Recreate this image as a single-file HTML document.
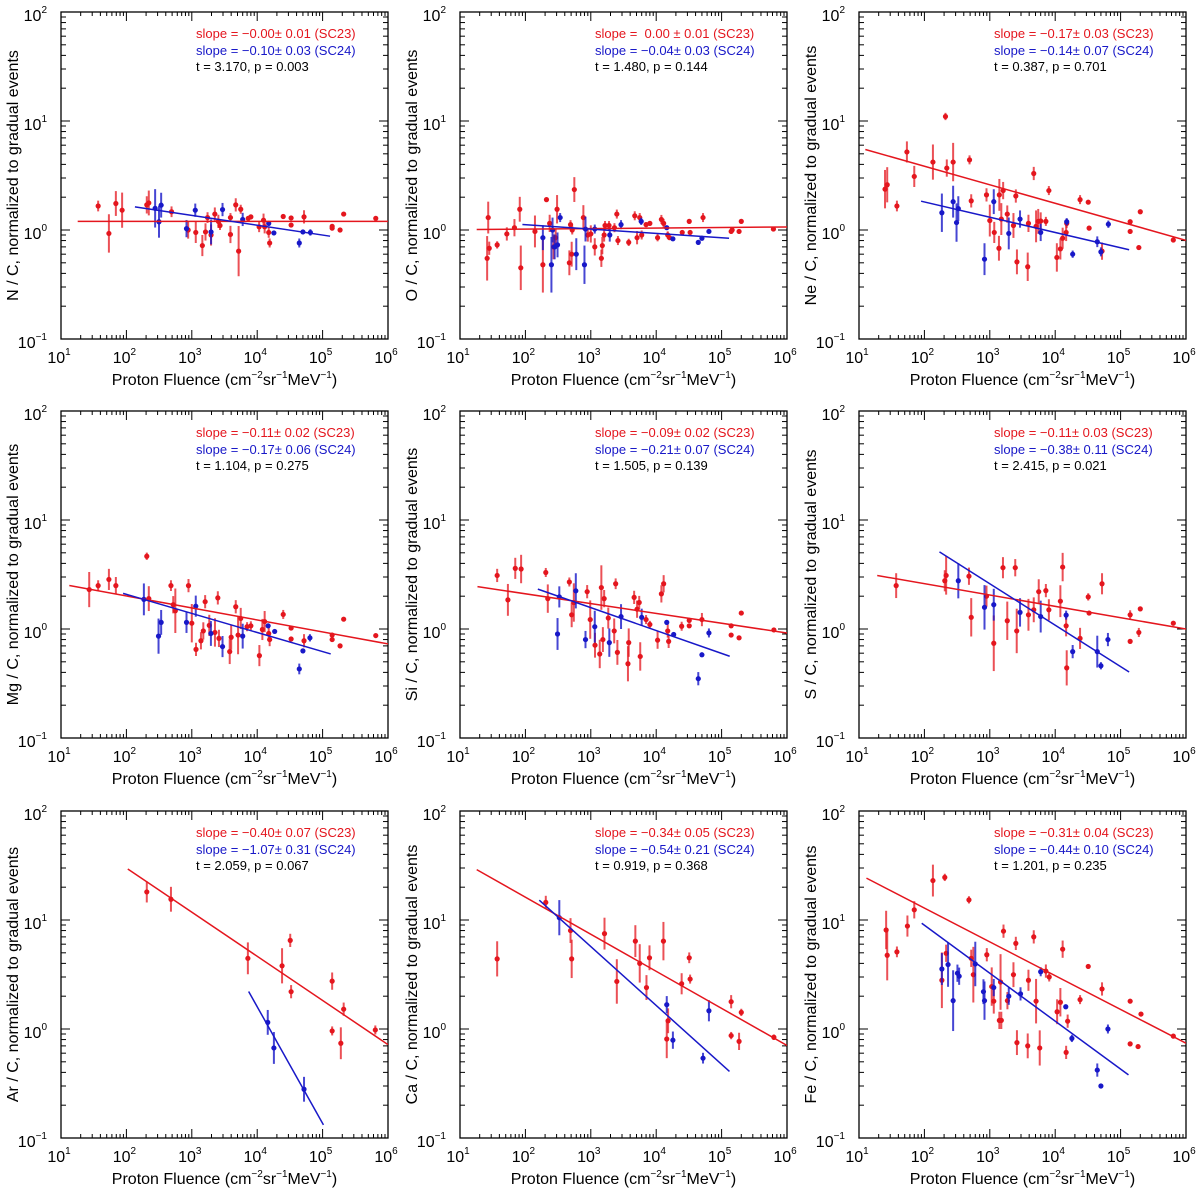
<!DOCTYPE html>
<html><head><meta charset="utf-8"><style>
body{margin:0;background:#fff;}
svg{display:block;font-family:"Liberation Sans",sans-serif;}
</style></head><body>
<svg id="fig" width="1200" height="1190" viewBox="0 0 1200 1190" xmlns="http://www.w3.org/2000/svg"></svg>
<script>
// ---------- data ----------
const panelNames = ["N","O","Ne","Mg","Si","S","Ar","Ca","Fe"];
const xTickExps = [1,2,3,4,5,6];
const yTickExps = [-1,0,1,2];
const slopeText23 = ["\u22120.00\u00b1 0.01","\u00a00.00 \u00b1 0.01","\u22120.17\u00b1 0.03","\u22120.11\u00b1 0.02","\u22120.09\u00b1 0.02","\u22120.11\u00b1 0.03","\u22120.40\u00b1 0.07","\u22120.34\u00b1 0.05","\u22120.31\u00b1 0.04"];
const slopeText24 = ["\u22120.10\u00b1 0.03","\u22120.04\u00b1 0.03","\u22120.14\u00b1 0.07","\u22120.17\u00b1 0.06","\u22120.21\u00b1 0.07","\u22120.38\u00b1 0.11","\u22121.07\u00b1 0.31","\u22120.54\u00b1 0.21","\u22120.44\u00b1 0.10"];
const tpText = ["t = 3.170, p = 0.003","t = 1.480, p = 0.144","t = 0.387, p = 0.701","t = 1.104, p = 0.275","t = 1.505, p = 0.139","t = 2.415, p = 0.021","t = 2.059, p = 0.067","t = 0.919, p = 0.368","t = 1.201, p = 0.235"];
// fits: [xStart, xEnd, slope, yAtRef, ref]
const fit23 = [[18,1e6,0.0,1.2,1e3],[18,1e6,0.005,1.03,1e3],[12.5,1e6,-0.17,2.6,1e3],[13.4,1e6,-0.11,1.56,1e3],[18.5,1e6,-0.09,1.71,1e3],[19,1e6,-0.104,2.05,1e3],[105,1e6,-0.405,11.8,1e3],[18,1e6,-0.34,7.4,1e3],[13,1e6,-0.31,6.3,1e3]];
const fit24 = [[135,130000,-0.09,1.36,1e3],[90,130000,-0.04,1.02,1e3],[89,135000,-0.14,1.31,1e3],[89,133000,-0.175,1.39,1e3],[155,133000,-0.21,1.57,1e3],[170,135000,-0.38,2.6,1e3],[7400,103000,-1.07,1.6,1e4],[163,132000,-0.54,5.7,1e3],[91,132000,-0.44,3.25,1e3]];
// points: [fluence, ratio, error factor]
const red = [
 [[37,1.66,1.12],[54,0.93,1.5],[69,1.75,1.3],[86,1.52,1.45],[205,1.7,1.2],[220,1.77,1.3],[490,1.47,1.12],[880,1.0,1.2],[1150,0.95,1.25],[1450,0.72,1.25],[1620,0.96,1.2],[1740,1.3,1.12],[1970,0.9,1.25],[2250,1.4,1.15],[2550,1.2,1.15],[2700,1.1,1.1],[3900,0.91,1.2],[3900,1.3,1.1],[4700,1.7,1.15],[5200,0.64,1.7],[5600,1.55,1.1],[7300,1.28,1.05],[8000,1.32,1.05],[10700,1.07,1.12],[12500,1.23,1.15],[13000,1.07,1.15],[15000,0.95,1.12],[15500,0.76,1.1],[25000,1.33,1.05],[33000,1.29,1.04],[33000,1.11,1.04],[52000,1.32,1.15],[140000,1.08,1.03],[140000,1.04,1.03],[185000,1.0,1.03],[210000,1.4,1.03],[650000,1.28,1.03]],
 [[26,0.55,1.6],[27,1.3,1.4],[28,0.68,1.15],[37,0.73,1.08],[52,0.92,1.15],[68,1.05,1.2],[82,1.55,1.3],[85,0.45,1.6],[140,0.97,1.4],[185,0.48,1.8],[210,1.9,1.05],[235,1.15,1.2],[270,0.7,1.3],[290,0.85,1.2],[305,1.55,1.35],[470,0.5,1.3],[490,1.12,1.1],[510,0.6,1.3],[520,1.0,1.1],[560,2.35,1.3],[770,1.3,1.3],[900,0.9,1.15],[1000,0.92,1.2],[1150,0.7,1.2],[1450,0.55,1.2],[1500,0.72,1.2],[1600,0.9,1.15],[1650,1.1,1.1],[1900,1.1,1.1],[2300,1.05,1.1],[2500,1.4,1.1],[2600,0.8,1.1],[3800,0.77,1.08],[4700,1.35,1.1],[5100,0.85,1.15],[5600,1.3,1.1],[6000,0.9,1.1],[7000,1.12,1.05],[8000,1.15,1.05],[10500,0.85,1.08],[12000,1.25,1.1],[13000,1.15,1.1],[15000,0.9,1.08],[16000,0.85,1.05],[25000,0.95,1.05],[32000,1.2,1.05],[33000,0.95,1.05],[52000,1.3,1.1],[140000,0.97,1.05],[145000,1.0,1.05],[185000,0.97,1.05],[200000,1.2,1.04],[620000,1.02,1.03]],
 [[25,2.37,1.5],[27,2.6,1.45],[38,1.66,1.12],[54,5.2,1.25],[70,3.1,1.25],[135,4.2,1.45],[210,11,1.08],[220,3.7,1.2],[275,4.2,1.5],[490,4.4,1.1],[520,1.85,1.15],[890,2.1,1.15],[1000,1.22,1.4],[1170,0.95,1.25],[1380,0.68,1.3],[1400,2.1,1.4],[1500,1.26,1.4],[1600,2.3,1.2],[1850,1.4,1.2],[2300,1.1,1.3],[2500,2.05,1.15],[2600,0.51,1.3],[3800,0.46,1.35],[3900,1.15,1.2],[4700,3.3,1.15],[5100,1.08,1.4],[5500,1.2,1.3],[6000,1.21,1.2],[7200,1.2,1.1],[8000,2.3,1.1],[10600,0.56,1.35],[12000,0.67,1.25],[13000,0.84,1.25],[14700,0.95,1.2],[15000,1.15,1.1],[24000,1.9,1.1],[32000,1.8,1.05],[33000,1.04,1.05],[52000,0.64,1.2],[140000,1.19,1.05],[140000,0.97,1.05],[190000,0.69,1.05],[200000,1.47,1.05],[640000,0.81,1.03]],
 [[27,2.3,1.45],[37,2.5,1.12],[54,2.85,1.25],[69,2.5,1.2],[205,4.65,1.08],[220,1.9,1.3],[480,2.5,1.12],[520,1.67,1.2],[560,1.47,1.6],[890,2.5,1.15],[1000,1.13,1.5],[1160,0.65,1.15],[1380,0.78,1.2],[1500,0.96,1.2],[1600,1.78,1.15],[1850,1.08,1.25],[2260,0.93,1.35],[2500,1.93,1.15],[2600,0.82,1.2],[3800,0.62,1.3],[4000,0.84,1.3],[4700,1.6,1.15],[5100,0.88,1.5],[5600,1.25,1.25],[7000,1.05,1.1],[8000,1.07,1.1],[10800,0.57,1.25],[12000,0.99,1.25],[13000,1.17,1.25],[15000,0.91,1.15],[15500,0.8,1.15],[25000,1.36,1.1],[33000,1.02,1.05],[33000,0.81,1.05],[52000,0.78,1.15],[140000,0.88,1.05],[140000,0.8,1.05],[185000,0.7,1.04],[210000,1.23,1.03],[650000,0.87,1.03]],
 [[37,3.1,1.15],[54,1.85,1.4],[70,3.6,1.25],[86,3.55,1.35],[205,3.3,1.1],[220,1.9,1.35],[470,2.7,1.1],[510,1.35,1.3],[550,1.75,1.5],[880,2.2,1.15],[980,1.22,1.5],[1160,0.71,1.3],[1370,0.59,1.35],[1450,2.4,1.6],[1530,0.8,1.3],[1600,1.9,1.2],[1850,1.26,1.25],[2280,0.96,1.3],[2400,2.6,1.12],[2550,0.61,1.3],[3700,0.48,1.45],[3800,0.75,1.35],[4600,1.95,1.15],[5100,1.52,1.2],[5500,1.75,1.15],[5700,0.56,1.35],[7000,1.22,1.1],[8000,1.1,1.08],[10500,0.79,1.2],[12000,2.1,1.2],[13000,2.6,1.2],[15000,0.96,1.15],[15500,0.77,1.15],[24500,1.06,1.1],[32000,1.2,1.05],[32000,1.07,1.05],[50000,1.22,1.15],[140000,1.07,1.05],[140000,0.88,1.04],[185000,0.83,1.05],[200000,1.4,1.03],[630000,0.98,1.03]],
 [[37,2.5,1.3],[205,2.77,1.25],[215,3.1,1.5],[480,3.05,1.2],[520,1.28,1.5],[890,2.0,1.25],[1150,0.74,1.8],[1590,3.65,1.25],[1850,1.19,1.5],[2450,3.65,1.2],[2580,0.96,1.6],[3900,1.35,1.4],[4700,1.5,1.3],[5600,2.2,1.3],[7200,2.25,1.15],[8000,1.5,1.25],[12000,1.8,1.4],[13000,3.7,1.35],[14700,1.07,1.25],[15000,0.44,1.45],[24000,0.82,1.25],[32000,1.97,1.08],[33000,1.4,1.05],[52000,2.6,1.25],[140000,0.77,1.04],[140000,1.35,1.1],[190000,0.93,1.1],[200000,1.53,1.04],[640000,1.13,1.04]],
 [[205,18.1,1.25],[480,15.5,1.3],[7200,4.45,1.4],[24000,3.8,1.45],[32000,6.5,1.15],[33000,2.2,1.15],[140000,2.75,1.2],[140000,0.96,1.1],[190000,0.74,1.4],[210000,1.52,1.15],[640000,0.98,1.1]],
 [[37,4.4,1.45],[205,14.5,1.15],[490,8,1.3],[510,4.4,1.5],[1620,7.5,1.4],[2500,2.73,1.6],[4800,6.4,1.4],[5600,4.0,1.5],[7100,2.4,1.3],[7900,4.5,1.3],[12900,6.4,1.5],[14500,0.81,1.5],[15200,1.19,1.3],[24500,2.6,1.25],[32000,4.5,1.12],[33000,2.87,1.1],[140000,1.78,1.15],[140000,0.87,1.08],[185000,0.77,1.2],[200000,1.42,1.08],[630000,0.84,1.06]],
 [[26,8.1,1.5],[27,4.75,1.7],[38,5.1,1.12],[55,8.8,1.25],[70,12.4,1.2],[135,23,1.4],[185,2.8,1.8],[205,24.6,1.08],[215,4.95,1.2],[480,15.3,1.08],[520,4.45,1.2],[560,3.15,1.8],[900,4.8,1.15],[1070,2.45,1.5],[1150,1.8,1.3],[1400,1.2,1.2],[1500,1.2,1.2],[1460,2.7,1.8],[1620,7.9,1.15],[1860,1.82,1.2],[2300,3.15,1.3],[2500,6.1,1.15],[2600,0.75,1.3],[3800,0.7,1.3],[3900,2.8,1.25],[4700,7.0,1.15],[5100,1.8,1.6],[5800,0.67,1.45],[7200,3.4,1.15],[8100,3.0,1.1],[10700,1.44,1.3],[12000,1.76,1.35],[13000,5.4,1.2],[14700,0.61,1.15],[15500,1.18,1.15],[24000,1.86,1.1],[32000,3.75,1.05],[52000,2.33,1.15],[140000,1.8,1.05],[140000,0.73,1.05],[185000,0.69,1.05],[205000,1.37,1.04],[640000,0.86,1.04]]
];
const blue = [
 [[275,1.58,1.5],[315,1.19,1.4],[340,1.69,1.3],[830,1.03,1.2],[1130,1.52,1.15],[1970,0.96,1.3],[2950,1.54,1.15],[6000,1.25,1.15],[15000,1.15,1.05],[18000,0.94,1.05],[44000,0.76,1.1],[50000,0.96,1.05],[65000,0.95,1.07]],
 [[185,0.85,1.3],[250,0.48,1.8],[260,1.0,1.3],[280,0.7,1.3],[310,0.73,1.3],[340,1.3,1.1],[600,0.6,1.4],[800,0.48,1.5],[830,1.02,1.3],[1150,1.02,1.1],[1950,0.9,1.15],[2900,1.12,1.1],[5900,1.2,1.08],[14500,1.05,1.04],[18000,0.83,1.04],[44000,0.77,1.05],[50000,0.84,1.04],[64000,0.97,1.03]],
 [[185,1.44,1.5],[275,1.82,1.4],[310,1.17,1.5],[330,1.57,1.3],[830,0.54,1.4],[1150,1.82,1.3],[1950,0.93,1.4],[2900,1.26,1.2],[6000,0.95,1.2],[15000,1.19,1.08],[18500,0.6,1.08],[44000,0.78,1.12],[50000,0.63,1.1],[65000,1.13,1.08]],
 [[185,1.87,1.4],[310,0.86,1.45],[340,1.15,1.3],[830,1.15,1.25],[1150,1.62,1.25],[1960,0.91,1.3],[2950,0.69,1.25],[6000,0.86,1.3],[14700,1.07,1.05],[18500,0.95,1.04],[44000,0.43,1.12],[50000,0.63,1.05],[64000,0.83,1.08]],
 [[310,0.9,1.4],[330,1.97,1.25],[590,2.24,1.45],[830,0.8,1.2],[1150,1.05,1.4],[1920,0.75,1.35],[2900,1.3,1.3],[6000,1.28,1.2],[14500,1.15,1.05],[18500,0.89,1.05],[44000,0.35,1.15],[50000,0.58,1.04],[64000,0.92,1.1]],
 [[330,2.77,1.45],[830,1.58,1.6],[1150,1.67,1.4],[2900,1.42,1.35],[6000,1.3,1.4],[14700,1.34,1.1],[18500,0.62,1.15],[44000,0.62,1.4],[50000,0.46,1.08],[64000,0.8,1.15]],
 [[14500,1.15,1.3],[18000,0.67,1.4],[52000,0.28,1.3]],
 [[330,10.5,1.45],[14500,1.67,1.2],[18000,0.79,1.2],[52000,0.54,1.12],[64000,1.47,1.25]],
 [[185,3.55,1.4],[230,3.9,1.6],[275,1.82,1.9],[320,3.25,1.2],[340,3.05,1.2],[600,3.95,1.6],[800,2.2,1.3],[830,1.82,1.5],[1150,2.4,1.2],[1950,2.0,1.2],[2950,2.1,1.15],[6000,3.35,1.1],[14500,1.6,1.05],[18000,0.82,1.08],[44000,0.42,1.15],[50000,0.3,1.05],[64000,1.0,1.1]]
];
// ---------- drawing ----------
const NS="http://www.w3.org/2000/svg";
const svg=document.getElementById('fig');
const colLeft=[61,460,859], rowTop=[12,411,811], PW=327, PH=327;
const RED="#e4161e", BLUE="#1818c8", REDE="rgba(228,22,30,0.75)", BLUEE="rgba(24,24,200,0.8)";
function mk(tag,attrs,parent){const e=document.createElementNS(NS,tag);for(const k in attrs)e.setAttribute(k,attrs[k]);(parent||svg).appendChild(e);return e;}
for(let p=0;p<9;p++){
  const L=colLeft[p%3], T=rowTop[Math.floor(p/3)];
  const g=mk('g',{});
  
  
  const sx=v=>L+(Math.log10(v)-1)*PW/5;
  const sy=v=>T+(2-Math.log10(v))*PH/3;
  const clipId='clip'+p;
  const cp=mk('clipPath',{id:clipId},g); mk('rect',{x:L,y:T,width:PW,height:PH},cp);
  // ticks
  const tg=mk('g',{stroke:'#000','stroke-width':1},g);
  
  
  for(let e=1;e<6;e++){for(let m=1;m<10;m++){const x=sx(m*Math.pow(10,e));const len=m===1?9:4;
    mk('line',{x1:x,y1:T+PH,x2:x,y2:T+PH-len},tg);mk('line',{x1:x,y1:T,x2:x,y2:T+len},tg);}}
  for(let e=-1;e<2;e++){for(let m=1;m<10;m++){const y=sy(m*Math.pow(10,e));const len=m===1?9:5;
    mk('line',{x1:L,y1:y,x2:L+len,y2:y},tg);mk('line',{x1:L+PW,y1:y,x2:L+PW-len,y2:y},tg);}}
  const fr=mk('rect',{x:L,y:T,width:PW,height:PH,fill:'none',stroke:'#000','stroke-width':1.3},g);
  
  
  // tick labels
  xTickExps.forEach(e=>{const t=mk('text',{x:sx(Math.pow(10,e))-2,y:T+PH+24,'font-size':16,'text-anchor':'middle'},g);
    
    
    t.textContent='10';const s=mk('tspan',{dy:-8,'font-size':10},t);s.textContent=String(e);});
  yTickExps.forEach(e=>{const t=mk('text',{x:L-14,y:sy(Math.pow(10,e))+9,'font-size':16,'text-anchor':'end'},g);
    
    
    t.textContent='10';const s=mk('tspan',{dy:-8,'font-size':10},t);s.textContent=e<0?'\u2212'+(-e):String(e);});
  // axis titles
  const xl=mk('text',{x:L+PW/2,y:T+PH+46,'font-size':16,'text-anchor':'middle'},g);
  
  
  xl.appendChild(document.createTextNode('Proton Fluence (cm'));
  let s=mk('tspan',{dy:-7,'font-size':10},xl);s.textContent='\u22122';
  s=mk('tspan',{dy:7},xl);s.textContent='sr';
  s=mk('tspan',{dy:-7,'font-size':10},xl);s.textContent='\u22121';
  s=mk('tspan',{dy:7},xl);s.textContent='MeV';
  s=mk('tspan',{dy:-7,'font-size':10},xl);s.textContent='\u22121';
  s=mk('tspan',{dy:7},xl);s.textContent=')';
  const yl=mk('text',{x:0,y:0,'font-size':16,'text-anchor':'middle',transform:`translate(${L-43},${T+PH/2}) rotate(-90)`},g);
  
  
  yl.textContent=panelNames[p]+' / C, normalized to gradual events';
  // annotations
  const ax=L+135;
  const a1=mk('text',{x:ax,y:T+26,'font-size':13,fill:RED},g);a1.textContent='slope = '+slopeText23[p]+' (SC23)';
  
  
  const a2=mk('text',{x:ax,y:T+43,'font-size':13,fill:BLUE},g);a2.textContent='slope = '+slopeText24[p]+' (SC24)';
  
  
  const a3=mk('text',{x:ax,y:T+59,'font-size':13,fill:'#000'},g);a3.textContent=tpText[p];
  
  
  // series
  const dg=mk('g',{'clip-path':`url(#${clipId})`},g);
  [[red[p],RED,REDE,'sc23'],[blue[p],BLUE,BLUEE,'sc24']].forEach(([pts,c,ce,nm])=>{
    pts.forEach(pt=>{const f=pt[2]||1.12;const x=sx(pt[0]);
      const el=mk('line',{x1:x,y1:sy(pt[1]*f),x2:x,y2:sy(pt[1]/f),stroke:ce,'stroke-width':2},dg);
      
      
      const d=mk('circle',{cx:x,cy:sy(pt[1]),r:2.6,fill:c},dg);
      
      
    });
  });
  [[fit23[p],RED,'fit-line-sc23'],[fit24[p],BLUE,'fit-line-sc24']].forEach(([f,c,nm])=>{
    const yv=x=>f[3]*Math.pow(x/f[4],f[2]);
    const ln=mk('line',{x1:sx(f[0]),y1:sy(yv(f[0])),x2:sx(f[1]),y2:sy(yv(f[1])),stroke:c,'stroke-width':1.5},dg);
    
    
  });
}
</script>
</body></html>
